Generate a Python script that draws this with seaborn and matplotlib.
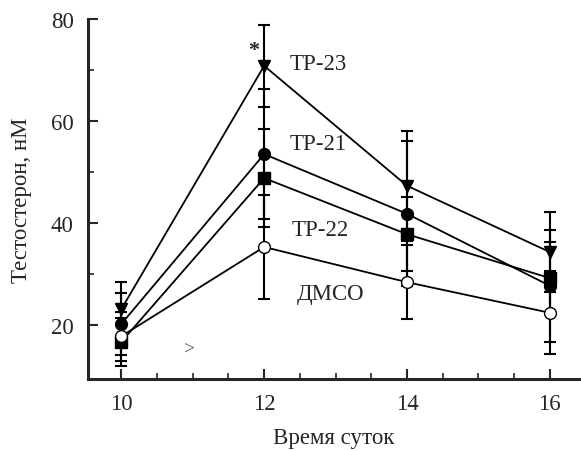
import numpy as np
import pandas as pd
import matplotlib
matplotlib.use("Agg")
import matplotlib.pyplot as plt
import seaborn as sns
from matplotlib.ticker import MultipleLocator, FixedLocator

# Data
hours = [10, 12, 14, 16]
tp23 = [23.1, 70.8, 47.3, 34.3]
tp21 = [20.2, 53.5, 41.8, 27.7]
tp22 = [16.7, 48.8, 37.8, 29.2]
dmso = [17.8, 35.3, 28.4, 22.4]

tp23_err = [5.3, 8.1, 10.8, 7.9]
tp21_err = [6.0, 12.8, 14.2, 11.0]
tp22_err = [4.7, 9.6, 7.2, 7.0]
dmso_err = [4.8, 10.2, 7.2, 8.1]

series_names = ["ТР-23", "ТР-21", "ТР-22", "ДМСО"]

sns.set_style("ticks")
plt.rcParams["font.family"] = ["Liberation Serif", "DejaVu Serif"]

fig = plt.figure(figsize=(5.81, 4.52), dpi=100)
ax = fig.add_axes([0.151, 0.159, 0.847, 0.797])

series = [
    (tp23, tp23_err, "v", "black"),
    (tp21, tp21_err, "o", "black"),
    (tp22, tp22_err, "s", "black"),
    (dmso, dmso_err, "o", "white"),
]

for (vals, errs, mk, fc), name in zip(series, series_names):
    df = pd.DataFrame({"hour": hours, "value": vals})
    ax.errorbar(hours, vals, yerr=errs, fmt="none", ecolor="black",
                elinewidth=1.5, capsize=4.5, capthick=1.5, zorder=2)
    sns.lineplot(data=df, x="hour", y="value", ax=ax, color="black",
                 linewidth=1.3, marker=mk, markersize=8.5,
                 markerfacecolor=fc, markeredgecolor="black",
                 markeredgewidth=1.0, zorder=3)

# Series labels
fs = 16.5
ax.text(12.35, 71.2, "ТР-23", fontsize=fs, va="center", ha="left")
ax.text(12.35, 55.5, "ТР-21", fontsize=fs, va="center", ha="left")
ax.text(12.39, 38.8, "ТР-22", fontsize=fs, va="center", ha="left")
ax.text(12.46, 26.1, "ДМСО", fontsize=fs, va="center", ha="left")
ax.text(11.85, 74.0, "*", fontsize=16, fontweight="bold", va="center", ha="center")
ax.text(10.95, 15.3, ">", fontsize=14, va="center", ha="center", color="#555555")

ax.set_xlim(9.53, 16.42)
ax.set_ylim(9.4, 80)
ax.set_xticks([10, 12, 14, 16])
ax.set_yticks([20, 40, 60, 80])
ax.xaxis.set_minor_locator(MultipleLocator(0.5))
ax.yaxis.set_minor_locator(FixedLocator([30, 50, 70]))

ax.tick_params(which="major", direction="in", length=7, width=1.5, labelsize=fs, pad=10)
ax.tick_params(which="minor", direction="in", length=4, width=1.2)

sns.despine(ax=ax)
for side in ["left", "bottom"]:
    ax.spines[side].set_linewidth(2.2)

ax.set_xlabel("Время суток", fontsize=fs, labelpad=9)
ax.set_ylabel("Тестостерон, нМ", fontsize=fs, labelpad=14)

fig.savefig("out.png", dpi=100)
